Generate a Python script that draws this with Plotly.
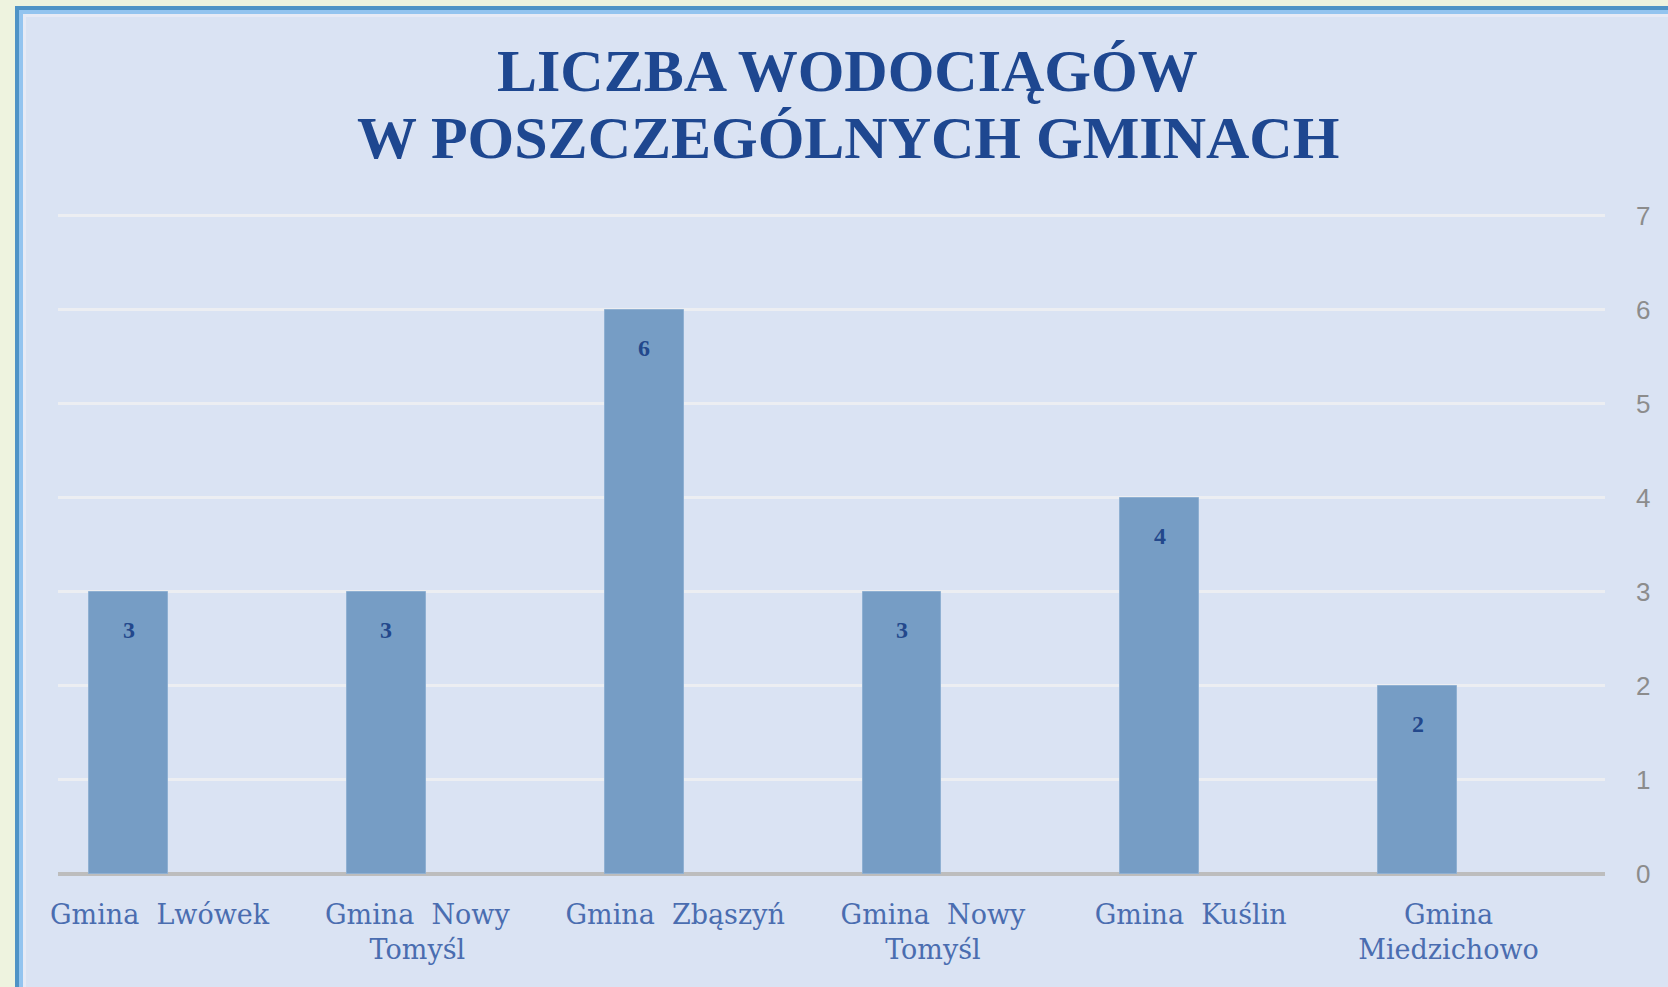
import plotly.graph_objects as go

# ---- data ----
categories = ["Gmina  Lwówek", "Gmina  Nowy<br>Tomyśl", "Gmina  Zbąszyń",
              "Gmina  Nowy<br>Tomyśl", "Gmina  Kuślin", "Gmina<br>Miedzichowo"]
values = [3, 3, 6, 3, 4, 2]
y_ticks = [0, 1, 2, 3, 4, 5, 6, 7]
title_line1 = "LICZBA WODOCIĄGÓW"
title_line2 = "W POSZCZEGÓLNYCH GMINACH"

# ---- layout geometry (pixels) ----
W, H = 1668, 987
Y_TOP = 7.02
L, R, B = 58, 63, 113
T = round(H - B - Y_TOP * 94)
PW, PH = W - L - R, H - T - B

def xp(px):
    return (px - L) / PW

def yp(py):
    return (H - B - py) / PH

positions = list(range(len(values)))

fig = go.Figure()
fig.add_trace(go.Bar(
    x=positions, y=values, width=0.305,
    marker=dict(color="#769dc5", line=dict(color="#8fb0d2", width=1)),
    hoverinfo="skip", showlegend=False,
))

label_font = dict(family="Liberation Serif", size=24, color="#23488c")
for xi, v in zip(positions, values):
    fig.add_annotation(x=xi, y=v, xref="x", yref="y", text=f"<b>{v}</b>",
                       showarrow=False, yshift=-38, font=label_font)

title_font = dict(family="Liberation Serif", size=60, color="#1e4790")
fig.add_annotation(x=xp(848), y=yp(71), xref="paper", yref="paper",
                   text=f"<b>{title_line1}</b>", showarrow=False,
                   xanchor="center", yanchor="middle", font=title_font)
fig.add_annotation(x=xp(848), y=yp(138), xref="paper", yref="paper",
                   text=f"<b>{title_line2}</b>", showarrow=False,
                   xanchor="center", yanchor="middle", font=title_font)

# frame shapes
def band(x0, x1, y0, y1, color):
    return dict(type="rect", xref="paper", yref="paper", x0=xp(x0), x1=xp(x1),
                y0=yp(y1), y1=yp(y0), fillcolor=color, line=dict(width=0), layer="below")

shapes = [
    band(0, 15, 0, H, "#eef3df"),
    band(0, W, 0, 6, "#eef3df"),
    band(15, 19, 6, H, "#4f93c6"),
    band(15, W, 6, 10, "#4f93c6"),
    band(19, 23, 10, H, "#93c4ef"),
    band(19, W, 10, 14, "#93c4ef"),
    band(23, 26, 14, H, "#e6eaf5"),
    band(23, W, 14, 17, "#e6eaf5"),
]

fig.update_layout(
    width=W, height=H,
    margin=dict(l=L, r=R, t=T, b=B, autoexpand=False),
    paper_bgcolor="#dae3f3", plot_bgcolor="#dae3f3",
    shapes=shapes,
    bargap=0,
    xaxis=dict(
        range=[-0.274, 5.727], tickmode="array",
        tickvals=[p + 0.12 for p in positions], ticktext=categories,
        showgrid=False, zeroline=False, showline=False, ticks="",
        tickfont=dict(family="DejaVu Serif", size=27, color="#4a6db0"),
        ticklabelstandoff=22, tickangle=0,
    ),
    yaxis=dict(
        range=[0, Y_TOP], side="right", tickmode="array", tickvals=y_ticks,
        showgrid=True, gridcolor="#eceef2", gridwidth=3,
        zeroline=True, zerolinecolor="#bdbdbd", zerolinewidth=4,
        showline=False, ticks="",
        tickfont=dict(family="Liberation Sans", size=26, color="#8c8c8c"),
        ticklabelstandoff=30,
    ),
)

fig.write_html("out.html", config={"displayModeBar": False},
               post_script="document.body.style.margin='0';")
